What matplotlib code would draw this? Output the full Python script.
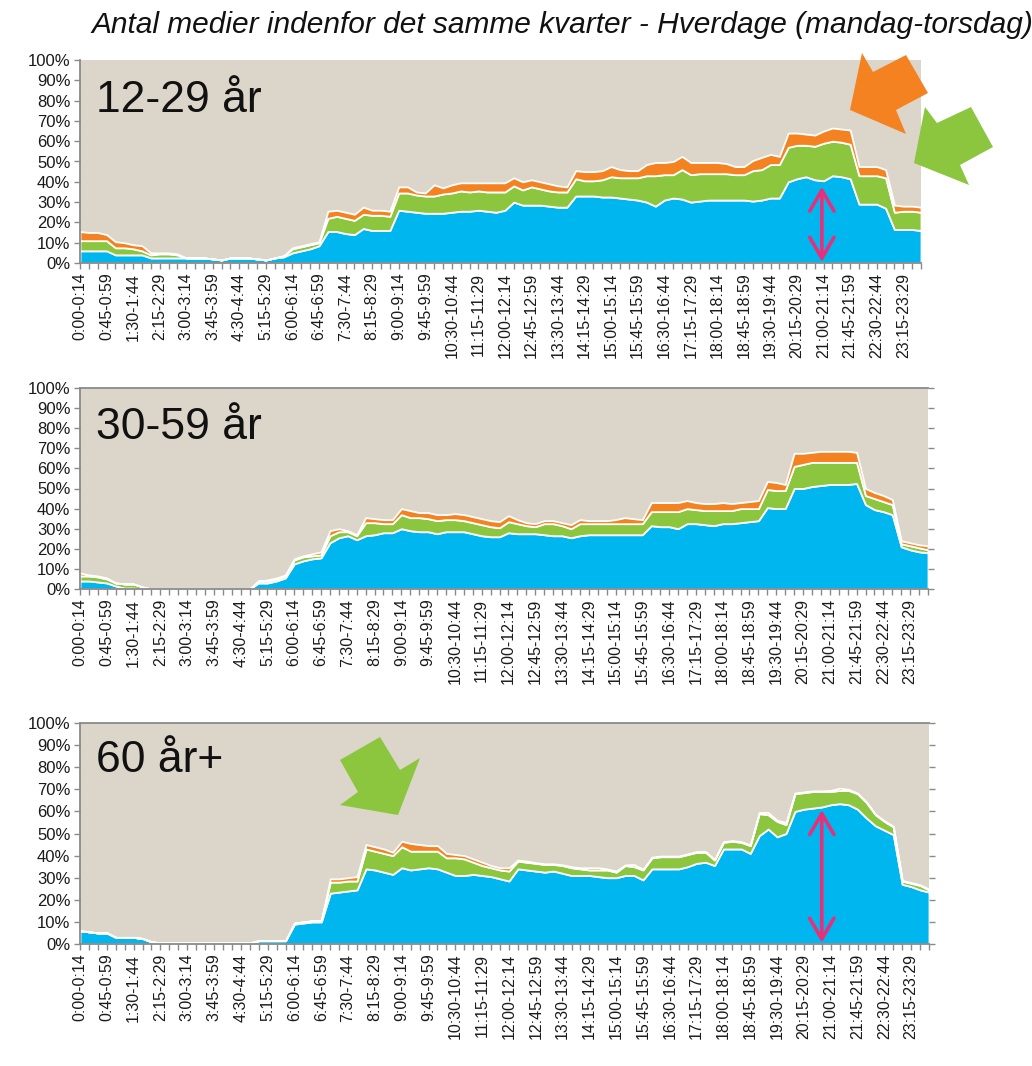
import matplotlib
matplotlib.use("Agg")
import matplotlib.pyplot as plt
import numpy as np
from matplotlib.patches import Polygon

W, H, DPI = 1032, 1066, 100
plt.rcParams['font.family'] = ['Liberation Sans', 'DejaVu Sans']

TITLE = "Antal medier indenfor det samme kvarter - Hverdage (mandag-torsdag)"
PANEL_LABELS = ["12-29 år", "30-59 år", "60 år+"]
TICK_LABELS = ["0:00-0:14", "0:45-0:59", "1:30-1:44", "2:15-2:29", "3:00-3:14", "3:45-3:59",
               "4:30-4:44", "5:15-5:29", "6:00-6:14", "6:45-6:59", "7:30-7:44", "8:15-8:29",
               "9:00-9:14", "9:45-9:59", "10:30-10:44", "11:15-11:29", "12:00-12:14",
               "12:45-12:59", "13:30-13:44", "14:15-14:29", "15:00-15:14", "15:45-15:59",
               "16:30-16:44", "17:15-17:29", "18:00-18:14", "18:45-18:59", "19:30-19:44",
               "20:15-20:29", "21:00-21:14", "21:45-21:59", "22:30-22:44", "23:15-23:29"]
N_QUARTERS = 96
Y_TICKS = [0, 10, 20, 30, 40, 50, 60, 70, 80, 90, 100]

# 12-29 år : share (%) using 1, 2 and 3 media in the same quarter
P1_ONE = [6, 6, 6, 6, 4, 4, 4, 4, 2.5, 2.5, 2.5, 2.5,
          2.5, 2.5, 2.5, 2, 1.5, 2.5, 2.5, 2.5, 2, 1.5, 2.5, 3,
          5, 6, 7, 8.5, 15.5, 15.5, 14.5, 14, 17, 16, 16, 16,
          26, 25.5, 25, 24.5, 24.5, 24.5, 25, 25.5, 25.5, 26, 25.5, 25,
          26, 30, 28.5, 28.5, 28.5, 28, 27.5, 27.5, 33, 33, 33, 32.5,
          32.5, 32, 31.5, 31, 30, 28, 31, 32, 31.5, 30, 30.5, 31,
          31, 31, 31, 31, 30.5, 31, 32, 32, 40, 41.5, 42.5, 41,
          40.5, 43, 42.5, 41.5, 29, 29, 29, 27, 16.5, 16.5, 16.5, 16]
P1_TWO = [5, 5, 5, 5, 3.5, 3.5, 3, 2, 1.5, 2, 2, 1.5,
          0, 0, 0, 0, 0, 0, 0, 0, 0, 0, 0, 0.5,
          2, 2, 2, 1.5, 6.5, 7.5, 7.5, 7, 7, 7.5, 7.5, 7,
          8.5, 9, 8.5, 8.5, 8.5, 9.5, 9.5, 10, 9.5, 9.5, 9.5, 10,
          9, 8, 7.5, 9, 8, 7.5, 7.5, 7.5, 8.5, 7.5, 7.5, 8.5,
          10, 10, 10.5, 11, 13, 15, 12.5, 11.5, 14.5, 13.5, 13.5, 13,
          13, 13, 12.5, 12.5, 15, 15, 16.5, 16.5, 17, 16.5, 15.5, 16.5,
          18.5, 17, 17, 17, 14, 14, 14, 15, 8.5, 9, 9, 9]
P1_THREE = [4.5, 4, 4, 3, 3, 2.5, 2, 2.5, 1, 0.5, 0.5, 0.5,
            0, 0, 0, 0, 0, 0, 0, 0, 0, 0, 0, 0,
            0.5, 0.5, 0.5, 0.5, 3.5, 3, 3, 3, 3.5, 2.5, 2.5, 2.5,
            3, 3, 1.5, 1.5, 5.5, 3, 4, 4, 4.5, 4, 4.5, 4.5,
            4.5, 4, 4, 3.5, 3.5, 3.5, 3, 2.5, 4, 4.5, 4.5, 4.5,
            5, 4, 3.5, 3.5, 5.5, 6.5, 6, 6.5, 6.5, 6, 5.5, 5.5,
            5.5, 5, 4, 4, 5, 6, 5, 4, 7, 6, 5.5, 5.5,
            6, 6.5, 6.5, 7, 4.5, 4.5, 4.5, 4, 3.5, 2.5, 2.5, 2.5]

# 30-59 år
P2_ONE = [4, 4, 3.5, 3, 1.5, 0.5, 0.5, 0, 0, 0, 0, 0,
          0, 0, 0, 0, 0, 0, 0, 0, 3, 3, 4, 5.5,
          12.5, 14, 15, 15.5, 23, 25.5, 26.5, 24.5, 26.5, 27, 28, 28,
          30, 29, 28.5, 28.5, 27.5, 28.5, 28.5, 28.5, 27.5, 26.5, 26, 26,
          28, 27.5, 27.5, 27.5, 27, 26.5, 26.5, 25.5, 26.5, 27, 27, 27,
          27, 27, 27, 27, 31.5, 31, 31, 30, 32.5, 32.5, 32, 31.5,
          32.5, 32.5, 33, 33.5, 34, 40.5, 40, 40, 50, 50, 51, 51.5,
          52, 52, 52, 52.5, 42, 39.5, 38.5, 37, 21, 19.5, 18.5, 18]
P2_TWO = [2.5, 2.5, 2.5, 2, 1.5, 2, 2, 1, 0, 0, 0, 0,
          0, 0, 0, 0, 0, 0, 0, 0, 1, 1, 1, 1,
          2, 2, 1.5, 1.5, 3.5, 3, 2, 2, 6.5, 6, 4.5, 4.5,
          7, 6.5, 7, 6.5, 6.5, 6, 6, 5.5, 5.5, 5.5, 5, 4.5,
          5.5, 5, 4, 3.5, 5.5, 6, 5, 4.5, 6, 5.5, 5.5, 5.5,
          5.5, 5.5, 5.5, 5.5, 7, 7.5, 7.5, 8.5, 7.5, 7, 7, 7.5,
          6.5, 6.5, 7, 6.5, 6, 9, 9, 9, 11, 12, 12, 11.5,
          11, 11, 11, 10.5, 4.5, 5.5, 5, 5, 1.5, 2, 2, 1.5]
P2_THREE = [1.5, 0.5, 0.5, 0.5, 0, 0, 0, 0, 0, 0, 0, 0,
            0, 0, 0, 0, 0, 0, 0, 0, 0, 0.5, 0.5, 0.5,
            0.5, 0.5, 1, 1.5, 2.5, 1.5, 0.5, 0.5, 2.5, 2, 2, 2,
            3, 3.5, 2.5, 3, 3, 2.5, 3, 3, 3, 3, 3, 3,
            3, 2, 1.5, 1.5, 1.5, 1.5, 1.5, 2, 2, 1.5, 1.5, 1.5,
            2, 3, 2.5, 2, 4.5, 4.5, 4.5, 4.5, 4, 3.5, 3.5, 3.5,
            4, 3.5, 3, 3.5, 4, 4, 4, 3, 6.5, 5.5, 5, 5.5,
            5.5, 5.5, 5.5, 5, 3.5, 3, 3, 2.5, 1.5, 1.5, 1.5, 2]

# 60 år+
P3_ONE = [6, 5.5, 5, 5, 3, 3, 3, 2.5, 1, 0.5, 0.5, 0.5,
          0.5, 0.5, 0.5, 0.5, 0.5, 0.5, 0.5, 0.5, 1.5, 1.5, 1.5, 1.5,
          9, 9.5, 10, 10, 23, 23.5, 24, 24.5, 34, 33.5, 32.5, 31.5,
          34.5, 33.5, 34, 34.5, 34, 32.5, 31, 31, 31.5, 31, 30.5, 29.5,
          28.5, 34, 33.5, 33, 32.5, 33, 32, 31, 31, 31, 30.5, 30,
          30, 31, 31, 29, 34, 34, 34, 34, 35, 36.5, 37, 35.5,
          43, 43, 43, 41, 49, 52, 48.5, 50, 60, 61, 61.5, 62,
          63, 63.5, 63, 61, 57, 53.5, 51.5, 49.5, 27, 26, 24.5, 23.5]
P3_TWO = [0, 0, 0, 0, 0, 0, 0, 0, 0, 0, 0, 0,
          0, 0, 0, 0, 0, 0, 0, 0, 0, 0, 0, 0,
          0.5, 0.5, 0.5, 0.5, 5, 4.5, 4.5, 4, 9, 8.5, 8.5, 8.5,
          9.5, 8.5, 8, 7.5, 8, 6.5, 8, 7.5, 5.5, 4.5, 4, 4,
          4.5, 3.5, 3.5, 3.5, 3.5, 3, 3.5, 3.5, 3, 2.5, 3, 3.5,
          2.5, 4.5, 4, 4.5, 5, 5.5, 5.5, 5.5, 5.5, 5, 4.5, 2.5,
          3, 3.5, 3, 3.5, 10, 6.5, 7, 4, 8, 7.5, 7.5, 7,
          6, 6, 6.5, 7, 7, 5, 4, 3.5, 1.5, 1.5, 2, 1]
P3_THREE = [0, 0, 0, 0, 0, 0, 0, 0, 0, 0, 0, 0,
            0, 0, 0, 0, 0, 0, 0, 0, 0, 0, 0, 0,
            0, 0, 0, 0, 1.5, 1.5, 1.5, 2, 2, 2, 2, 1.5,
            2.5, 3.5, 3, 2.5, 2.5, 2, 1.5, 1.5, 1.5, 1.5, 1, 1,
            1.5, 0.5, 0.5, 0.3, 0.3, 0.3, 0.3, 0.5, 0.5, 1, 1, 0.5,
            0.5, 0.3, 1, 0.3, 0.3, 0.3, 0.3, 0.3, 0.3, 0.3, 0.3, 0.3,
            0.3, 0.3, 0.3, 0.3, 0.5, 1, 0.5, 1, 0.3, 0.3, 0.3, 0.3,
            0.5, 1, 0.5, 0.3, 0.3, 0.3, 0.3, 0.3, 0.3, 0.3, 0.3, 0.3]

# pointer arrows (category index, top %)
P1_MARK = (83.8, 37.6)
P3_MARK = (83.0, 60.6)

BLUE, GREEN, ORANGE, BEIGE = "#00B6EF", "#8CC63F", "#F58220", "#DCD5C9"
MAGENTA = "#E8307A"
GRAY = "#8A8A8A"

fig = plt.figure(figsize=(W / DPI, H / DPI), dpi=DPI)


def px_rect(left, right, top, bottom):
    return [left / W, 1 - bottom / H, (right - left) / W, (bottom - top) / H]


panels = [
    (px_rect(80, 921, 60, 263), (P1_ONE, P1_TWO, P1_THREE), False, 0.745),
    (px_rect(80, 928, 388, 589), (P2_ONE, P2_TWO, P2_THREE), True, 0.745),
    (px_rect(80, 929, 723, 944), (P3_ONE, P3_TWO, P3_THREE), True, 0.777),
]

x = np.arange(N_QUARTERS)
tick_labels_full = [""] * N_QUARTERS
for k, lab in enumerate(TICK_LABELS):
    tick_labels_full[k * 3] = lab

axes = []
for (rect, series, top_spine, label_y), label in zip(panels, PANEL_LABELS):
    ax = fig.add_axes(rect)
    ax.set_facecolor(BEIGE)
    ax.stackplot(x, *series, colors=[BLUE, GREEN, ORANGE],
                 edgecolor="white", linewidth=1.3)
    ax.set_xlim(0, N_QUARTERS - 1)
    ax.set_ylim(0, 100)
    ax.set_yticks(Y_TICKS)
    ax.set_yticklabels([f"{v}%" for v in Y_TICKS], fontsize=12, color="#1a1a1a")
    ax.set_xticks(x)
    ax.set_xticklabels(tick_labels_full, rotation=90, fontsize=11.5, color="#1a1a1a")
    ax.tick_params(axis="x", length=4, width=1, color=GRAY, pad=3)
    ax.tick_params(axis="y", length=4, width=1, color=GRAY, pad=3)
    if top_spine:
        ax.tick_params(axis="y", right=True, labelright=False)
    for s in ["left", "bottom"]:
        ax.spines[s].set_color(GRAY)
        ax.spines[s].set_linewidth(1.3)
    ax.spines["right"].set_visible(False)
    ax.spines["top"].set_visible(top_spine)
    ax.spines["top"].set_color(GRAY)
    ax.spines["top"].set_linewidth(1.3)
    ax.text(0.019, label_y, label, transform=ax.transAxes, fontsize=32,
            ha="left", va="baseline", color="#111111")
    axes.append(ax)

for ax, (mx, my) in ((axes[0], P1_MARK), (axes[2], P3_MARK)):
    ax.annotate("", xy=(mx, my), xytext=(mx, 0.6),
                arrowprops=dict(arrowstyle="<->, head_length=0.6, head_width=0.35",
                                color=MAGENTA, lw=2.6,
                                mutation_scale=25, shrinkA=0, shrinkB=0),
                annotation_clip=False)

# decorative block arrows (figure pixel coordinates)
ov = fig.add_axes([0, 0, 1, 1], zorder=10)
ov.set_xlim(0, W)
ov.set_ylim(H, 0)
ov.axis("off")
ov.patch.set_alpha(0)
orange_arrow = [(850, 110), (906, 134), (896, 110), (928, 93), (906, 55), (873, 72), (862, 53)]
green_arrow1 = [(914, 163), (969, 185), (960, 165), (993, 147), (971, 107), (937, 123), (925, 107)]
green_arrow3 = [(398, 815), (340, 805), (358, 792), (340, 760), (380, 737), (400, 770), (420, 758)]
ov.add_patch(Polygon(orange_arrow, closed=True, facecolor=ORANGE, edgecolor="none"))
ov.add_patch(Polygon(green_arrow1, closed=True, facecolor=GREEN, edgecolor="none"))
ov.add_patch(Polygon(green_arrow3, closed=True, facecolor=GREEN, edgecolor="none"))

t = fig.text(91 / W, 1 - 33 / H, TITLE, fontsize=20, style="italic",
             ha="left", va="baseline", color="#111111")
fig.canvas.draw()
bb = t.get_window_extent()
t.set_fontsize(20 * 938 / bb.width)

fig.savefig("out.png", dpi=DPI)
